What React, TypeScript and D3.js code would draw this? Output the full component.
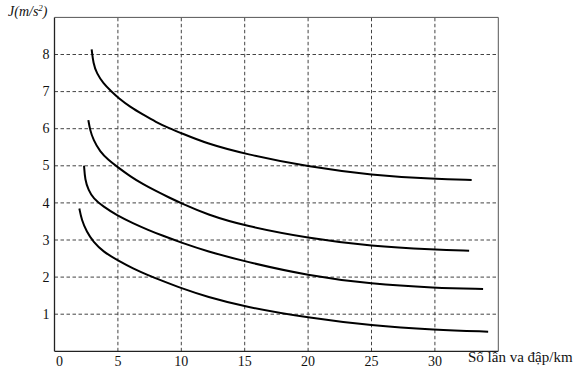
import React from "react";
import * as d3 from "d3";

const xTicks = [0, 5, 10, 15, 20, 25, 30];
const yTicks = [1, 2, 3, 4, 5, 6, 7, 8];

const curve1X = [2.93, 3.06, 3.33, 3.85, 4.5, 5, 6, 7, 8, 9, 10, 12, 15, 20, 25, 30, 32.9];
const curve1Y = [8.14, 7.76, 7.49, 7.22, 7.0, 6.84, 6.58, 6.38, 6.18, 6.02, 5.88, 5.6, 5.32, 4.97, 4.75, 4.64, 4.62];

const curve2X = [2.67, 2.8, 3.06, 3.59, 4.24, 5, 6, 7, 8, 9, 10, 12, 15, 20, 25, 30, 32.7];
const curve2Y = [6.23, 5.97, 5.7, 5.38, 5.16, 4.96, 4.71, 4.5, 4.32, 4.15, 3.99, 3.69, 3.38, 3.05, 2.83, 2.74, 2.71];

const curve3X = [2.33, 2.41, 2.67, 3.06, 3.85, 4.9, 6.2, 7.4, 8.5, 10, 12, 15, 20, 25, 30, 33.8];
const curve3Y = [5.0, 4.62, 4.35, 4.12, 3.9, 3.67, 3.45, 3.27, 3.12, 2.93, 2.7, 2.42, 2.04, 1.81, 1.71, 1.68];

const curve4X = [1.96, 2.14, 2.54, 3.06, 3.85, 5, 6.2, 7.4, 8.5, 10, 12, 15, 20, 25, 30, 34.2];
const curve4Y = [3.85, 3.54, 3.22, 2.95, 2.68, 2.45, 2.23, 2.05, 1.9, 1.7, 1.47, 1.2, 0.9, 0.69, 0.58, 0.53];

const series = [
  { xs: curve1X, ys: curve1Y },
  { xs: curve2X, ys: curve2Y },
  { xs: curve3X, ys: curve3Y },
  { xs: curve4X, ys: curve4Y },
];

export default function App() {
  const W = 578;
  const H = 376;
  const x = d3.scaleLinear().domain([0, 35]).range([54.5, 498.3]);
  const y = d3.scaleLinear().domain([0, 9]).range([351.3, 17.4]);
  const line = d3
    .line<[number, number]>()
    .x((d) => x(d[0]))
    .y((d) => y(d[1]))
    .curve(d3.curveBasis);

  const font = "'Liberation Serif', 'Times New Roman', 'DejaVu Serif', serif";
  const gridColor = "#444";

  return (
    <svg
      width={W}
      height={H}
      style={{ position: "absolute", left: 0, top: 0, background: "#fff", fontFamily: font }}
    >
      {xTicks.filter((t) => t > 0).map((t) => (
        <line
          key={"gx" + t}
          x1={x(t)}
          x2={x(t)}
          y1={y(0)}
          y2={y(9)}
          stroke={gridColor}
          strokeWidth={1}
          strokeDasharray="3.5,2.5"
        />
      ))}
      {yTicks.map((t) => (
        <line
          key={"gy" + t}
          x1={x(0)}
          x2={x(35)}
          y1={y(t)}
          y2={y(t)}
          stroke={gridColor}
          strokeWidth={1}
          strokeDasharray="3.5,2.5"
        />
      ))}
      <line x1={x(0)} x2={x(35)} y1={y(9)} y2={y(9)} stroke="#555" strokeWidth={1} />
      <line x1={x(35)} x2={x(35)} y1={y(9)} y2={y(0)} stroke="#555" strokeWidth={1} />
      <line x1={x(0)} x2={x(0)} y1={y(9)} y2={y(0)} stroke="#222" strokeWidth={1.3} />
      <line x1={x(0)} x2={x(35)} y1={y(0)} y2={y(0)} stroke="#222" strokeWidth={1.3} />

      {series.map((s, i) => (
        <path
          key={"c" + i}
          d={line(s.xs.map((v, j) => [v, s.ys[j]] as [number, number])) || ""}
          fill="none"
          stroke="#000"
          strokeWidth={2}
        />
      ))}

      {yTicks.map((t) => (
        <text
          key={"ty" + t}
          x={x(0) - 5}
          y={y(t)}
          dy="0.33em"
          textAnchor="end"
          fontSize={14}
          fill="#111"
        >
          {t}
        </text>
      ))}
      {xTicks.map((t) => (
        <text
          key={"tx" + t}
          x={x(t) + (t === 0 ? 5 : 0)}
          y={366}
          textAnchor="middle"
          fontSize={14}
          fill="#111"
        >
          {t}
        </text>
      ))}

      <text x={8} y={16} fontSize={14} fontStyle="italic" fill="#111">
        J(m/s<tspan fontSize={9} dy={-5}>2</tspan>
        <tspan dy={5}>)</tspan>
      </text>
      <text x={468} y={362} fontSize={15} fill="#111">
        Số lần va đập/km
      </text>
    </svg>
  );
}
